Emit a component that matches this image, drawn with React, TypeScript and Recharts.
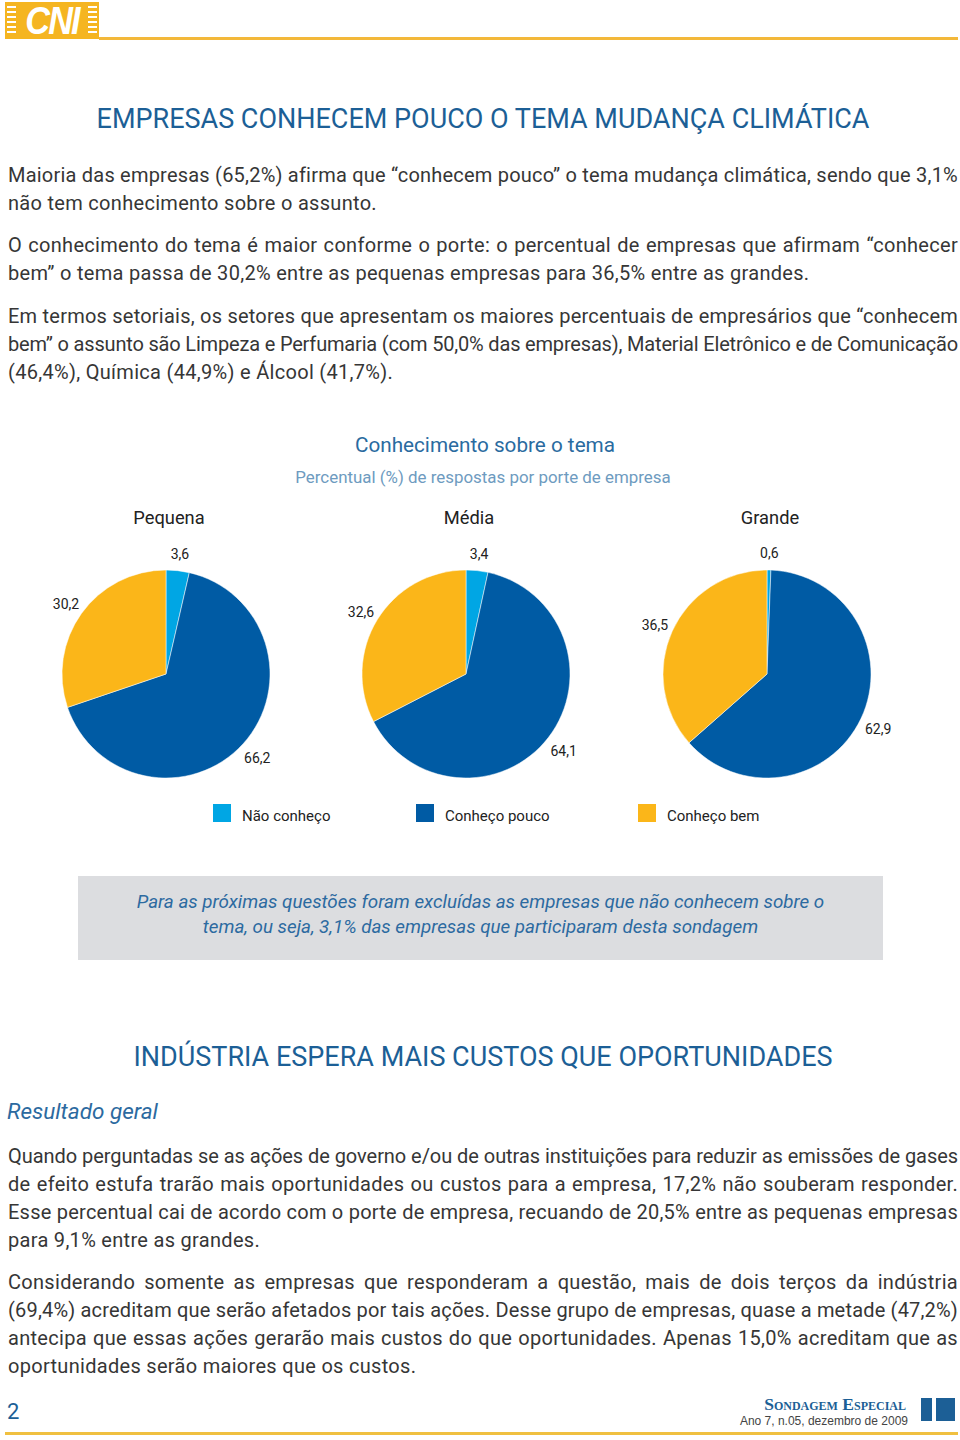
import { useLayoutEffect, useRef } from "react";
import { PieChart, Pie, Cell } from "recharts";

const PORTES = ["Pequena", "Média", "Grande"];
const CATEGORIAS = ["Não conheço", "Conheço pouco", "Conheço bem"];
const NAO_CONHECO = [3.6, 3.4, 0.6];
const CONHECO_POUCO = [66.2, 64.1, 62.9];
const CONHECO_BEM = [30.2, 32.6, 36.5];

const CORES = ["#00a6e4", "#005ba4", "#fbb619"];
const PIE_CX = [161, 461, 762];

const TEXT = "#363636";
const BLUE = "#1c5f96";
const LIGHT_BLUE = "#6e9bc0";
const FONT = "Roboto, 'Liberation Sans', Arial, sans-serif";
const LS = 0.3;

const fmt = (v: number) => v.toFixed(1).replace(".", ",");

function renderLabel(props: any) {
  const { cx, cy, midAngle, outerRadius, value } = props;
  const rad = (Math.PI / 180) * midAngle;
  const r = outerRadius + 19;
  const x = cx + r * Math.cos(rad);
  const y = cy - r * Math.sin(rad) + 2;
  return (
    <text x={x} y={y} textAnchor="middle" dominantBaseline="central" fill="#222" fontSize={14} fontFamily={FONT}>
      {fmt(value)}
    </text>
  );
}

// one line of justified text; squeezes letter spacing if it would overflow
function Line({ text, last }: { text: string; last: boolean }) {
  const ref = useRef<HTMLDivElement>(null);
  useLayoutEffect(() => {
    const fit = () => {
      const el = ref.current;
      if (!el) return;
      el.style.letterSpacing = `${LS}px`;
      const span = el.firstChild as HTMLSpanElement;
      const w = span.getBoundingClientRect().width;
      if (w > 950.5) el.style.letterSpacing = `${LS - (w - 950) / text.length}px`;
    };
    fit();
    document.fonts?.ready.then(fit);
  }, [text]);
  return (
    <div
      ref={ref}
      style={{
        whiteSpace: "nowrap",
        textAlign: "justify",
        textAlignLast: last ? "left" : "justify",
        letterSpacing: LS,
      }}
    >
      <span>{text}</span>
    </div>
  );
}

function Para({ lines, top }: { lines: string[]; top: number }) {
  return (
    <div style={{ position: "absolute", left: 8, top, width: 950, fontSize: 20, lineHeight: "28px", color: TEXT }}>
      {lines.map((l, i) => (
        <Line key={i} text={l} last={i === lines.length - 1} />
      ))}
    </div>
  );
}

export default function App() {
  const pies = PORTES.map((p, i) => [
    { name: CATEGORIAS[0], value: NAO_CONHECO[i] },
    { name: CATEGORIAS[1], value: CONHECO_POUCO[i] },
    { name: CATEGORIAS[2], value: CONHECO_BEM[i] },
  ]);

  const stripes = "repeating-linear-gradient(to bottom, #fff 0 2px, transparent 2px 5px)";

  return (
    <div
      style={{
        position: "absolute",
        left: 0,
        top: 0,
        width: 960,
        height: 1440,
        background: "#fff",
        fontFamily: FONT,
        overflow: "hidden",
      }}
    >
      {/* header */}
      <div style={{ position: "absolute", left: 5, top: 2, width: 94, height: 37, background: "#f5b521" }}>
        <div style={{ position: "absolute", left: 2, top: 4, width: 9, height: 29, background: stripes }} />
        <div style={{ position: "absolute", right: 2, top: 4, width: 9, height: 29, background: stripes }} />
        <div
          style={{
            position: "absolute",
            left: 0,
            top: -1,
            width: 94,
            textAlign: "center",
            color: "#fff",
            fontWeight: 700,
            fontStyle: "italic",
            fontSize: 38,
            lineHeight: "40px",
            letterSpacing: -2,
            transform: "scaleX(0.9)",
            fontFamily: "'Liberation Sans', Arial, sans-serif",
          }}
        >
          CNI
        </div>
      </div>
      <div style={{ position: "absolute", left: 99, top: 37, width: 859, height: 3, background: "#f3b83a" }} />

      <div
        style={{
          position: "absolute",
          left: 0,
          top: 102,
          width: 966,
          textAlign: "center",
          fontSize: 27,
          lineHeight: "34px",
          color: BLUE,
        }}
      >
        EMPRESAS CONHECEM POUCO O TEMA MUDANÇA CLIMÁTICA
      </div>

      <Para
        top={161}
        lines={[
          "Maioria das empresas (65,2%) afirma que “conhecem pouco” o tema mudança climática, sendo que 3,1%",
          "não tem conhecimento sobre o assunto.",
        ]}
      />
      <Para
        top={231}
        lines={[
          "O conhecimento do tema é maior conforme o porte: o percentual de empresas que afirmam “conhecer",
          "bem” o tema passa de 30,2% entre as pequenas empresas para 36,5% entre as grandes.",
        ]}
      />
      <Para
        top={302}
        lines={[
          "Em termos setoriais, os setores que apresentam os maiores percentuais de empresários que “conhecem",
          "bem” o assunto são Limpeza e Perfumaria (com 50,0% das empresas), Material Eletrônico e de Comunicação",
          "(46,4%), Química (44,9%) e Álcool (41,7%).",
        ]}
      />

      {/* chart */}
      <div
        style={{
          position: "absolute",
          left: 0,
          top: 431,
          width: 970,
          textAlign: "center",
          fontSize: 20.7,
          lineHeight: "28px",
          color: "#2a6b9f",
        }}
      >
        Conhecimento sobre o tema
      </div>
      <div
        style={{
          position: "absolute",
          left: 0,
          top: 466,
          width: 966,
          textAlign: "center",
          fontSize: 16.9,
          lineHeight: "22px",
          color: LIGHT_BLUE,
        }}
      >
        Percentual (%) de respostas por porte de empresa
      </div>

      {PORTES.map((p, i) => (
        <div
          key={p}
          style={{
            position: "absolute",
            left: PIE_CX[i] + 5 - 100 + 3,
            top: 507,
            width: 200,
            textAlign: "center",
            fontSize: 18.3,
            lineHeight: "22px",
            color: "#222",
          }}
        >
          {p}
        </div>
      ))}

      <div style={{ position: "absolute", left: 0, top: 530 }}>
        <PieChart width={960} height={280}>
          {pies.map((data, i) => (
            <Pie
              key={PORTES[i]}
              data={data}
              dataKey="value"
              nameKey="name"
              cx={PIE_CX[i]}
              cy={139}
              outerRadius={104}
              startAngle={90}
              endAngle={-270}
              stroke="#fff"
              strokeWidth={0.5}
              label={renderLabel}
              labelLine={false}
              isAnimationActive={false}
            >
              {data.map((d, j) => (
                <Cell key={d.name} fill={CORES[j]} />
              ))}
            </Pie>
          ))}
        </PieChart>
      </div>

      {/* legend */}
      {CATEGORIAS.map((c, i) => (
        <div
          key={c}
          style={{
            position: "absolute",
            left: [213, 416, 638][i],
            top: 804,
            display: "flex",
            alignItems: "center",
            fontSize: 15,
            color: "#222",
          }}
        >
          <div style={{ width: 18, height: 18, background: CORES[i], marginRight: 11, marginTop: -6 }} />
          <span style={{ lineHeight: "22px", marginTop: 1 }}>{c}</span>
        </div>
      ))}

      {/* note box */}
      <div
        style={{
          position: "absolute",
          left: 78,
          top: 876,
          width: 805,
          height: 84,
          background: "#dcdde0",
          color: "#2c6aa0",
          fontStyle: "italic",
          fontSize: 18.8,
          lineHeight: "25px",
          textAlign: "center",
          boxSizing: "border-box",
          paddingTop: 14,
        }}
      >
        <div>Para as próximas questões foram excluídas as empresas que não conhecem sobre o</div>
        <div>tema, ou seja, 3,1% das empresas que participaram desta sondagem</div>
      </div>

      <div
        style={{
          position: "absolute",
          left: 0,
          top: 1040,
          width: 966,
          textAlign: "center",
          fontSize: 27,
          lineHeight: "34px",
          color: BLUE,
        }}
      >
        INDÚSTRIA ESPERA MAIS CUSTOS QUE OPORTUNIDADES
      </div>
      <div
        style={{
          position: "absolute",
          left: 7,
          top: 1097,
          fontStyle: "italic",
          fontSize: 22.5,
          lineHeight: "28px",
          color: "#2c6aa0",
        }}
      >
        Resultado geral
      </div>

      <Para
        top={1142}
        lines={[
          "Quando perguntadas se as ações de governo e/ou de outras instituições para reduzir as emissões de gases",
          "de efeito estufa trarão mais oportunidades ou custos para a empresa, 17,2% não souberam responder.",
          "Esse percentual cai de acordo com o porte de empresa, recuando de 20,5% entre as pequenas empresas",
          "para 9,1% entre as grandes.",
        ]}
      />
      <Para
        top={1268}
        lines={[
          "Considerando somente as empresas que responderam a questão, mais de dois terços da indústria",
          "(69,4%) acreditam que serão afetados por tais ações. Desse grupo de empresas, quase a metade (47,2%)",
          "antecipa que essas ações gerarão mais custos do que oportunidades. Apenas 15,0% acreditam que as",
          "oportunidades serão maiores que os custos.",
        ]}
      />

      {/* footer */}
      <div style={{ position: "absolute", left: 7, top: 1398, fontSize: 22, lineHeight: "28px", color: BLUE }}>2</div>
      <div
        style={{
          position: "absolute",
          right: 54,
          top: 1394,
          fontFamily: "'Liberation Serif', 'DejaVu Serif', serif",
          fontVariant: "small-caps",
          fontWeight: 700,
          fontSize: 17.5,
          lineHeight: "20px",
          color: BLUE,
        }}
      >
        Sondagem Especial
      </div>
      <div
        style={{
          position: "absolute",
          right: 52,
          top: 1414,
          fontSize: 12,
          lineHeight: "14px",
          color: "#444",
          fontFamily: "'Liberation Sans Narrow', 'Liberation Sans', Arial, sans-serif",
        }}
      >
        Ano 7, n.05, dezembro de 2009
      </div>
      <div style={{ position: "absolute", left: 921, top: 1398, width: 11, height: 23, background: BLUE }} />
      <div style={{ position: "absolute", left: 936, top: 1398, width: 19, height: 23, background: BLUE }} />
      <div style={{ position: "absolute", left: 5, top: 1432, width: 953, height: 3, background: "#f0c040" }} />
    </div>
  );
}
